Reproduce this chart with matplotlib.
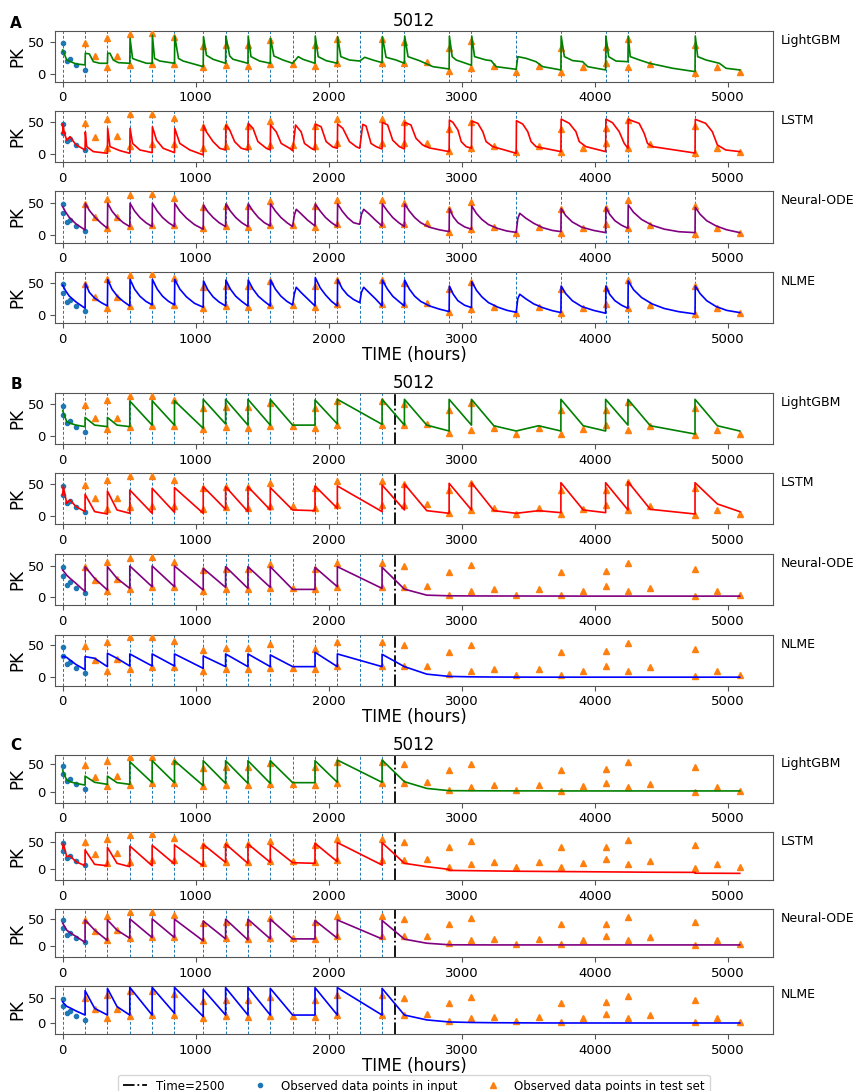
import matplotlib
matplotlib.use("Agg")
import matplotlib.pyplot as plt
from matplotlib.lines import Line2D

# ---------- data ----------
# dosing times (blue dashed lines)
dose_t = [0, 168, 336, 504, 672, 840, 1056, 1224, 1392, 1560, 1728, 1896, 2064, 2232,
          2400, 2568, 2904, 3072, 3408, 3744, 4080, 4248, 4752]
cut_t = 2500

# observations given as model input
obs_in_t = [0, 4, 30, 55, 100, 168]
obs_in_y = [33.5, 47.4, 20.1, 23.7, 14.4, 6.7]

# observations of the test set
test_t = [168, 240, 336, 336, 408, 504, 504, 672, 672, 840, 840, 1056, 1056, 1224, 1224,
          1392, 1392, 1560, 1560, 1728, 1896, 1896, 2064, 2064, 2400, 2400, 2568, 2568,
          2736, 2904, 2904, 3072, 3072, 3240, 3408, 3576, 3744, 3744, 3912, 4080, 4080,
          4248, 4248, 4416, 4752, 4752, 4920, 5088]
test_y = [48.5, 27.5, 10.5, 55.5, 28.5, 13.5, 62.5, 16, 63, 16, 56.5, 10.5, 43, 13.5, 45,
          12.5, 45, 15, 52, 15, 12.5, 44.5, 17, 54.5, 17, 54.5, 17, 50,
          18, 4.5, 40, 9.5, 51, 12.5, 3.5, 13, 3, 40, 10.5, 17.5, 41,
          10, 53.5, 15.5, 1.5, 44.5, 10, 3]

# panel A: full model curves, (time, PK)
a_lgb = [(0, 37), (30, 21.6), (100, 15.5), (168, 14), (170, 32), (200, 31), (230, 19), (280, 16.5),
         (336, 16.5), (338, 32), (355, 32), (380, 21.6), (418, 17.5), (504, 16.5), (506, 55),
         (525, 24), (555, 21.6), (630, 16.5), (672, 16.5), (674, 60), (690, 24), (730, 20),
         (840, 16.5), (842, 58.7), (870, 24), (905, 20), (1056, 11.3), (1058, 57.7), (1080, 29),
         (1130, 22.7), (1224, 16.5), (1226, 58.7), (1255, 27.8), (1280, 22.7), (1392, 16.5),
         (1394, 58.7), (1415, 26.8), (1480, 20), (1560, 16.5), (1562, 55), (1587, 27.8),
         (1655, 21.6), (1728, 16.5), (1770, 26.8), (1805, 22.7), (1896, 16.5), (1898, 58.7),
         (1920, 26.8), (1980, 20.6), (2064, 16.5), (2066, 57.7), (2090, 26.8), (2155, 21.6),
         (2232, 20), (2270, 25.8), (2330, 21.6), (2400, 17.5), (2402, 57.7), (2430, 25.8),
         (2505, 21.6), (2568, 16.5), (2570, 58.7), (2595, 26.8), (2680, 20.6), (2782, 11.3),
         (2904, 7.7), (2906, 58.7), (2927, 26.8), (2957, 21.6), (3072, 13.4), (3074, 58.7),
         (3095, 26.8), (3182, 21.6), (3220, 20.6), (3257, 11.3), (3408, 7.2), (3420, 26.8),
         (3482, 24.2), (3557, 19), (3607, 11.3), (3744, 6.2), (3746, 58.7), (3770, 26.8),
         (3833, 20.6), (3907, 19), (3945, 11.3), (4080, 6.2), (4082, 58.7), (4103, 26.8),
         (4158, 20), (4248, 19), (4250, 58.7), (4265, 26.8), (4335, 21.6), (4410, 16.5),
         (4584, 8.8), (4752, 3.6), (4754, 58.7), (4772, 26.8), (4835, 21.6), (4935, 16.5),
         (4985, 8.8), (5088, 6.2)]
a_lstm = [(0, 33), (3, 48), (10, 35), (30, 22), (55, 27.6), (100, 14.6), (168, 6.8), (170, 35),
          (180, 12), (230, 4.2), (336, 1.6), (338, 40.6), (355, 12), (430, 5.7), (504, 1.6),
          (506, 40.6), (525, 17), (580, 6.8), (672, 2.6), (674, 43), (705, 22), (755, 9.4),
          (840, 2.6), (842, 40.6), (880, 17), (955, 6.8), (1056, -1), (1058, 45.8), (1080, 35),
          (1130, 19.8), (1180, 9.4), (1224, 6.8), (1226, 45.8), (1255, 38), (1292, 19.8),
          (1342, 9.4), (1392, 6.8), (1394, 48.4), (1430, 40.6), (1467, 19.8), (1530, 9.4),
          (1560, 6.8), (1562, 45.8), (1605, 35), (1642, 17), (1705, 9.4), (1728, 5.7),
          (1750, 45.8), (1792, 35), (1817, 17), (1867, 9.4), (1896, 6.8), (1898, 47.3),
          (1942, 43), (1980, 19.8), (2030, 11.4), (2064, 9.4), (2066, 47.3), (2105, 40.6),
          (2155, 19.8), (2205, 12), (2232, 9.4), (2255, 46.8), (2280, 44.2), (2317, 17),
          (2355, 12), (2400, 8.3), (2402, 50), (2442, 45.8), (2480, 22), (2530, 12), (2568, 8.3),
          (2570, 50), (2617, 45.8), (2655, 25), (2705, 14.6), (2755, 10), (2904, 4.2),
          (2906, 53.6), (2932, 50), (2970, 38), (2995, 19.8), (3032, 12), (3072, 9.4),
          (3074, 52), (3120, 48.4), (3157, 35.4), (3182, 19.8), (3232, 12), (3408, 1.6),
          (3410, 52.5), (3457, 47.3), (3495, 35.4), (3520, 19.8), (3557, 12), (3744, 4.2),
          (3746, 55), (3807, 48.4), (3857, 35.4), (3882, 19.8), (3932, 12), (4080, 4.2),
          (4082, 55), (4132, 49.4), (4182, 35.4), (4220, 17), (4248, 9.4), (4250, 54.6),
          (4332, 48.4), (4370, 32.8), (4395, 17), (4432, 12), (4752, 2), (4754, 54.6),
          (4832, 48.4), (4882, 35.4), (4920, 14.6), (4982, 6.8), (5088, 4.2)]
a_node = [(0, 43.8), (20, 36), (50, 27), (100, 17), (168, 7.7), (170, 49), (200, 38), (240, 28),
          (290, 18), (336, 10.3), (338, 49), (370, 37), (410, 27), (455, 19), (504, 12.9),
          (506, 49), (540, 37), (580, 27), (625, 19), (672, 12.9), (674, 49), (710, 37),
          (750, 27), (795, 19), (840, 12.9), (842, 49), (880, 37), (930, 26), (990, 16),
          (1056, 8.8), (1058, 46.4), (1090, 36), (1130, 27), (1175, 19), (1224, 12.9),
          (1226, 48), (1260, 37), (1300, 27), (1345, 19), (1392, 12.9), (1394, 48), (1430, 37),
          (1470, 27), (1515, 19), (1560, 13.9), (1562, 48), (1598, 37), (1640, 27), (1685, 19),
          (1728, 12.9), (1740, 30), (1755, 39.7), (1790, 33), (1840, 23), (1896, 13.9),
          (1898, 48), (1935, 37), (1975, 27), (2020, 19), (2064, 12.9), (2066, 48), (2100, 37),
          (2140, 27), (2185, 19), (2232, 16.5), (2245, 32), (2262, 39.7), (2300, 33), (2350, 23),
          (2400, 13.9), (2402, 48), (2440, 37), (2480, 27), (2525, 19), (2568, 12.9), (2570, 48),
          (2605, 37), (2645, 27), (2690, 19), (2755, 12), (2830, 8), (2904, 5.2), (2906, 41),
          (2935, 28), (2970, 19), (3020, 12.5), (3072, 8.8), (3074, 44.8), (3110, 33), (3150, 24),
          (3200, 16), (3270, 10), (3340, 6), (3408, 4), (3420, 25), (3435, 33.5), (3480, 26),
          (3540, 18), (3610, 11), (3680, 7), (3744, 5.2), (3746, 41), (3780, 30), (3830, 20),
          (3900, 12), (3990, 7), (4080, 3.6), (4082, 42.8), (4110, 32), (4150, 22), (4200, 15),
          (4248, 10.3), (4250, 46.4), (4290, 35), (4350, 24), (4430, 15), (4520, 9), (4630, 5),
          (4752, 3.6), (4754, 42.8), (4790, 32), (4840, 22), (4910, 14), (4990, 8), (5088, 3.6)]
a_nlme = [(0, 46), (20, 38), (50, 29), (100, 20), (168, 10.3), (170, 49), (200, 35), (240, 26),
          (290, 19), (336, 13.9), (338, 55), (370, 40), (410, 29), (455, 21), (504, 13.9),
          (506, 55), (540, 40), (580, 29), (625, 21), (672, 15.5), (674, 55), (710, 40),
          (750, 29), (795, 21), (840, 15.5), (842, 55), (880, 40), (930, 28), (990, 18),
          (1056, 11.9), (1058, 52.6), (1090, 39), (1130, 28), (1175, 20), (1224, 13.9),
          (1226, 54), (1260, 40), (1300, 29), (1345, 21), (1392, 13.9), (1394, 54), (1430, 40),
          (1470, 29), (1515, 21), (1560, 13.9), (1562, 54), (1598, 40), (1640, 29), (1685, 21),
          (1728, 15.5), (1740, 32), (1755, 42.8), (1790, 35), (1840, 25), (1896, 13.9),
          (1898, 57.7), (1935, 42), (1975, 31), (2020, 21), (2064, 13.9), (2066, 55), (2100, 41),
          (2140, 31), (2185, 24), (2232, 19), (2245, 35), (2262, 42.8), (2300, 35), (2350, 25),
          (2400, 13.9), (2402, 54), (2440, 40), (2480, 29), (2525, 21), (2568, 13.9), (2570, 54),
          (2605, 40), (2645, 29), (2690, 21), (2755, 14), (2830, 9), (2904, 5.2), (2906, 44.8),
          (2935, 32), (2970, 22), (3020, 15), (3072, 11.3), (3074, 51.5), (3110, 38), (3150, 28),
          (3200, 19), (3270, 12), (3340, 7), (3408, 4.1), (3420, 25), (3435, 32), (3480, 25),
          (3540, 17), (3610, 11), (3680, 6.5), (3744, 3.6), (3746, 44.8), (3780, 33), (3830, 22),
          (3900, 13), (3990, 7), (4080, 2.6), (4082, 44.8), (4110, 32), (4150, 22), (4200, 15),
          (4248, 10.3), (4250, 52.6), (4290, 39), (4350, 27), (4430, 17), (4520, 10), (4630, 5),
          (4752, 1.5), (4754, 44.8), (4790, 33), (4840, 22), (4910, 13), (4990, 7), (5088, 3.6)]

# panels B and C: predictions at the observation times
pred_t = [0, 4, 30, 55, 100, 168, 168, 240, 336, 336, 408, 504, 504, 672, 672, 840, 840,
          1056, 1056, 1224, 1224, 1392, 1392, 1560, 1560, 1728, 1896, 1896, 2064, 2064,
          2400, 2400, 2568, 2568, 2736, 2904, 2904, 3072, 3072, 3240, 3408, 3576, 3744, 3744,
          3912, 4080, 4080, 4248, 4248, 4416, 4752, 4752, 4920, 5088]

b_lgb = [40, 37, 22.4, 20, 17, 14.6, 29, 17, 14.6, 29, 17, 14.6, 54.7, 17, 55, 17, 55,
         12, 57.3, 18.8, 57.3, 17, 57.3, 17, 57.3, 17, 17, 56.3, 18.8, 57.3,
         18.2, 57.3, 17, 57.3, 17, 7.8, 57.3, 17, 57.3, 16, 7.8, 16, 7.8, 57.3,
         16, 7.8, 57.3, 17, 57.3, 16, 3.1, 57.3, 16, 7.8]
b_lstm = [32.8, 46.9, 19.8, 25, 14.6, 6.8, 33.9, 6.8, 3.1, 39, 9.4, 4.2, 40.6, 4.2, 43.2, 5.7, 44.3,
          4.2, 45.8, 10.4, 45.8, 6.8, 45.8, 9.4, 44.3, 9.4, 8.3, 46.9, 12, 46.9,
          6.8, 48.4, 9.4, 50, 8.3, 4.2, 51, 9.4, 52, 8.3, 4.2, 8.3, 5.2, 52,
          9.4, 5.2, 52, 9.4, 53.6, 10.4, 3.1, 52, 18.8, 6.8]
b_node = [43, 42, 35, 30, 22, 9, 48.4, 30, 11.6, 48.4, 30, 14.2, 49.5, 16.8, 49.5, 16.8, 49.5,
          11.6, 45.8, 15.8, 48.4, 14.2, 48.4, 15.8, 48.4, 12.6, 12.6, 47.4, 16.8, 48.4,
          14.2, 47.4, 13, 13, 3.5, 2.5, 2.5, 2.3, 2.3, 2.2, 2.2, 2.1, 2.1, 2.1,
          2, 2, 2, 2, 2, 2, 2, 2, 2, 2]
b_nlme = [32, 33, 31, 27, 20, 12, 32.3, 29.7, 16.7, 37.5, 29.7, 17.7, 36.5, 17.7, 36.5, 17.7, 36.5,
          14, 33.3, 16.7, 36.5, 16.7, 36.5, 16.7, 34.9, 16.7, 16.7, 39, 16.7, 36.5,
          16.7, 35.9, 16.7, 16.7, 5, 1.5, 1.5, 0.8, 0.8, 0.5, 0.4, 0.3, 0.3, 0.3,
          0.3, 0.3, 0.3, 0.3, 0.3, 0.3, 0.3, 0.3, 0.3, 0.3]

c_lgb = [40, 36, 22, 19, 16, 13, 29, 17.9, 14.3, 29, 17.3, 14.3, 54.8, 17.3, 56.5, 17.3, 56.5,
         11.9, 56.5, 16, 56.5, 16, 56.5, 16, 56.5, 17.3, 17.3, 56.5, 17.9, 57.7,
         17.9, 57.7, 19, 19, 7, 3, 3, 2.8, 2.8, 2.7, 2.6, 2.6, 2.5, 2.5,
         2.5, 2.5, 2.5, 2.5, 2.5, 2.5, 2.5, 2.5, 2.5, 2.5]
c_lstm = [37.8, 47, 22.6, 23.8, 13.4, 6, 34.8, 8.5, 6, 39.6, 10.4, 4.3, 42, 6, 43.3, 9.1, 43.9,
          5.5, 45, 12.2, 45.7, 10.4, 45.7, 12.2, 43.9, 11.6, 10.4, 47, 13.4, 48.2,
          7.3, 48.2, 10.4, 10.4, 4.3, -0.6, -2.5, -3, -3, -3.5, -4, -4.3, -4.6, -4.6,
          -4.9, -5.2, -5.2, -5.5, -5.5, -5.8, -6.1, -7.6, -7.7, -7.9]
c_node = [42, 40, 29, 24, 17, 6, 48, 29, 9.4, 48, 29, 13.8, 50, 15, 50, 15, 49.4,
          8.8, 46, 12.5, 49.4, 10.6, 49.4, 12.5, 49.4, 12.5, 12.5, 47, 13.8, 48,
          12.5, 47, 12, 12, 4.4, 1.5, 1.5, 1.3, 1.3, 1.2, 1.2, 1.2, 1.2, 1.2,
          1.2, 1.2, 1.2, 1.2, 1.2, 1.2, 1.2, 1.2, 1.2, 1.2]
c_nlme = [42, 40, 33, 30, 24, 16, 63.6, 29, 16, 68, 32.5, 16, 70, 16, 70, 19.5, 70,
          13, 66, 16, 69.5, 16, 70, 16, 68, 16, 16, 69.5, 16, 69.5,
          16, 68, 16, 16, 6.5, 2.5, 2.5, 1.5, 1.5, 1, 0.8, 0.6, 0.5, 0.5,
          0.5, 0.5, 0.5, 0.5, 0.5, 0.5, 0.5, 0.5, 0.5, 0.5]

models = ["LightGBM", "LSTM", "Neural-ODE", "NLME"]
colors = ["green", "red", "purple", "blue"]

# ---------- layout (pixel boxes of the 12 axes) ----------
W, H = 857, 1091
X0, X1 = 55, 773
boxes = {
    "A": [(31, 81.7), (111, 162.3), (191, 242.7), (272.3, 323.3)],
    "B": [(393.3, 444), (473.3, 524.3), (554, 605), (635, 685.7)],
    "C": [(755, 802.7), (832.3, 880), (909.3, 957.3), (986, 1034)],
}
ylims = {
    "A": [(-12, 66.5), (-12.5, 67.7), (-12, 68), (-13, 66)],
    "B": [(-12.5, 66.7), (-13, 66.7), (-12, 68.4), (-13, 66)],
    "C": [(-18.5, 66.7), (-20, 67), (-22, 68), (-21, 72.7)],
}
letter_y = {"A": 23.5, "B": 384.5, "C": 745}

curves_a = [a_lgb, a_lstm, a_node, a_nlme]
curves_b = [b_lgb, b_lstm, b_node, b_nlme]
curves_c = [c_lgb, c_lstm, c_node, c_nlme]

fig = plt.figure(figsize=(W / 100, H / 100), dpi=100)
spine_col = "#555555"

for panel in ["A", "B", "C"]:
    for i, (top, bot) in enumerate(boxes[panel]):
        ax = fig.add_axes([X0 / W, 1 - bot / H, (X1 - X0) / W, (bot - top) / H])
        if panel == "A":
            vl = dose_t
        else:
            vl = [d for d in dose_t if d < cut_t]
        for d in vl:
            ax.axvline(d, color="#1f77b4", ls=(0, (3, 2)), lw=0.7)
        if panel != "A":
            ax.axvline(cut_t, color="black", ls="-.", lw=1.3)

        ax.plot(obs_in_t, obs_in_y, "o", color="#1f77b4", ms=3, zorder=3)
        ax.plot(test_t, test_y, "^", color="#ff7f0e", ms=4.5, zorder=3)

        if panel == "A":
            tt = [p[0] for p in curves_a[i]]
            yy = [p[1] for p in curves_a[i]]
        elif panel == "B":
            tt, yy = pred_t, curves_b[i]
        else:
            tt, yy = pred_t, curves_c[i]
        ax.plot(tt, yy, color=colors[i], lw=1.2, zorder=4)

        ax.set_xlim(-58, 5338)
        ax.set_ylim(*ylims[panel][i])
        ax.set_xticks([0, 1000, 2000, 3000, 4000, 5000])
        ax.set_yticks([0, 50])
        ax.tick_params(labelsize=9.5, color=spine_col)
        for s in ax.spines.values():
            s.set_color(spine_col)
        ax.set_ylabel("PK", fontsize=12, labelpad=1.5)
        ax.text(1.011, 0.95, models[i], transform=ax.transAxes, ha="left", va="top", fontsize=9)
        if i == 0:
            ax.set_title("5012", fontsize=12, pad=3.5)
        if i == 3:
            ax.set_xlabel("TIME (hours)", fontsize=12, labelpad=0)
    fig.text(16 / W, 1 - letter_y[panel] / H, panel, fontsize=11, fontweight="bold",
             ha="center", va="center")

handles = [
    Line2D([], [], color="black", ls="-.", lw=1.3),
    Line2D([], [], marker="o", color="#1f77b4", ls="none", ms=3),
    Line2D([], [], marker="^", color="#ff7f0e", ls="none", ms=4.5),
]
labels = ["Time=2500", "Observed data points in input", "Observed data points in test set"]
fig.legend(handles, labels, loc="upper center", bbox_to_anchor=(((X0 + X1) / 2) / W, 1 - 1069 / H),
           ncol=3, fontsize=8.5, frameon=True)

fig.savefig("out.png", dpi=100)
